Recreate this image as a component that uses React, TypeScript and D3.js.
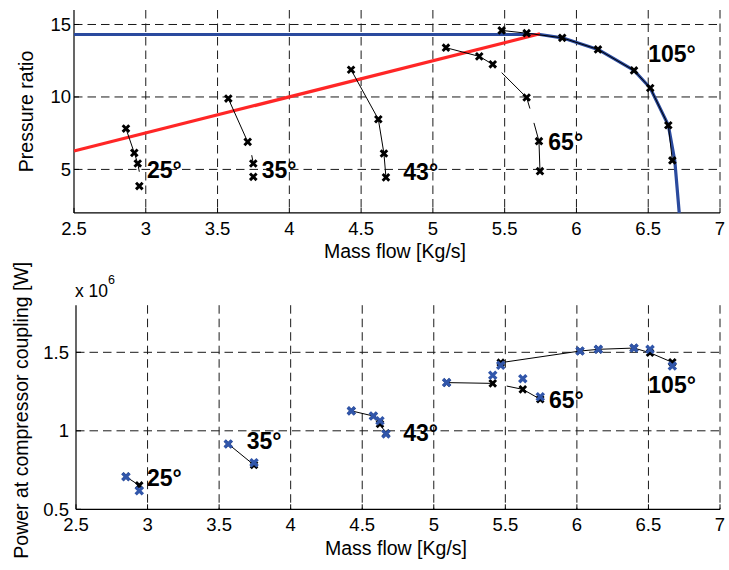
import React from "react";
import * as d3 from "d3";

// ---- data ----
const xTicks = [2.5, 3, 3.5, 4, 4.5, 5, 5.5, 6, 6.5, 7];
const prTicks = [5, 10, 15];
const pwTicks = [0.5, 1, 1.5];
const angleLabels = ["25°", "35°", "43°", "65°", "105°"];

// top plot: pressure ratio vs mass flow
const blueLimit: [number, number][] = [
  [2.5, 14.31], [5.746, 14.31], [5.901, 14.08], [6.15, 13.28], [6.401, 11.83],
  [6.514, 10.62], [6.64, 8.05], [6.685, 5.6], [6.716, 2.0],
];
const redLine: [number, number][] = [[2.5, 6.27], [5.746, 14.36]];

const pr25: [number, number][] = [[2.862, 7.82], [2.92, 6.14], [2.944, 5.41], [2.955, 3.85]];
const pr35: [number, number][] = [[3.575, 9.89], [3.71, 6.9], [3.749, 5.41], [3.749, 4.49]];
const pr43: [number, number][] = [[4.43, 11.88], [4.62, 8.46], [4.659, 6.1], [4.673, 4.45]];
const pr65: [number, number][] = [[5.091, 13.4], [5.323, 12.8], [5.417, 12.25], [5.653, 9.96], [5.739, 6.95], [5.746, 4.88]];
const pr105: [number, number][] = [[5.479, 14.59], [5.653, 14.4], [5.901, 14.08], [6.15, 13.28], [6.401, 11.83], [6.514, 10.62], [6.64, 8.05], [6.668, 5.62]];

const prSegments: [number, number][][] = [
  [[2.862, 7.82], [2.92, 6.14], [2.944, 5.41], [2.955, 4.84]],
  [[3.575, 9.89], [3.71, 6.9]],
  [[3.738, 5.98], [3.749, 5.41]],
  [[4.43, 11.88], [4.62, 8.46], [4.659, 6.1], [4.673, 4.45]],
  [[5.091, 13.4], [5.323, 12.8], [5.417, 12.25]],
  [[5.479, 11.68], [5.653, 9.96], [5.676, 9.2]],
  [[5.704, 8.21], [5.739, 6.95], [5.746, 4.88]],
  pr105,
];
const prLabelPos: [number, number][] = [[3.008, 4.38], [3.807, 4.38], [4.794, 4.26], [5.804, 6.33], [6.5, 12.385]];

// bottom plot: power (x 10^6 W) vs mass flow
const pwBlack: [number, number][][] = [
  [[2.849, 0.708], [2.942, 0.652]],
  [[3.564, 0.916], [3.744, 0.782]],
  [[4.424, 1.127], [4.578, 1.094], [4.624, 1.043], [4.666, 0.984]],
  [[5.09, 1.307], [5.412, 1.302], [5.622, 1.264], [5.744, 1.201]],
  [[5.468, 1.434], [6.022, 1.508], [6.15, 1.519], [6.399, 1.527], [6.511, 1.497], [6.667, 1.436]],
];
const pwSegments: [number, number][][] = [
  [[2.849, 0.708], [2.942, 0.652]],
  [[3.564, 0.916], [3.744, 0.782]],
  [[4.424, 1.127], [4.578, 1.094], [4.624, 1.043], [4.666, 0.984]],
  [[5.09, 1.307], [5.412, 1.302]],
  [[5.51, 1.285], [5.622, 1.264], [5.744, 1.201]],
  [[5.468, 1.434], [6.022, 1.508], [6.15, 1.519], [6.399, 1.527], [6.511, 1.497], [6.667, 1.436]],
];
const pwBlue: [number, number][] = [
  [2.849, 0.708], [2.942, 0.618],
  [3.564, 0.916], [3.744, 0.797],
  [4.424, 1.127], [4.578, 1.094], [4.624, 1.064], [4.666, 0.98],
  [5.09, 1.307], [5.412, 1.354], [5.622, 1.332], [5.744, 1.217],
  [5.468, 1.417], [6.022, 1.508], [6.15, 1.519], [6.399, 1.527], [6.511, 1.519], [6.667, 1.413],
];
const pwLabelPos: [number, number][] = [[2.996, 0.648], [3.693, 0.887], [4.787, 0.938], [5.805, 1.145], [6.499, 1.241]];

// ---- style ----
const FONT = "'Liberation Sans', Arial, Helvetica, sans-serif";
const BLUE = "#2a4a9e";
const BLUE_MK = "#3156aa";
const RED = "#ff2626";
const GRID = "#1a1a1a";
const DASH = "8.5,5";

const W = 729, H = 570;
const top = { l: 74, r: 720, t: 10, b: 212.9 };
const bot = { l: 76, r: 720, t: 305.2, b: 509.3 };

const xTop = d3.scaleLinear().domain([2.5, 7]).range([top.l, top.r]);
const yTop = d3.scaleLinear().domain([2, 16]).range([top.b, top.t]);
const xBot = d3.scaleLinear().domain([2.5, 7]).range([bot.l, bot.r]);
const yBot = d3.scaleLinear().domain([0.5, 1.8]).range([bot.b, bot.t]);

function Cross({ x, y, color, s = 3.3, w = 2.9 }: { x: number; y: number; color: string; s?: number; w?: number }) {
  return (
    <path
      d={`M${x - s},${y - s}L${x + s},${y + s}M${x - s},${y + s}L${x + s},${y - s}`}
      stroke={color}
      strokeWidth={w}
      strokeLinecap="butt"
      fill="none"
    />
  );
}

function Frame({
  box, xs, ys, yTicks, yFmt, yLabelEnd,
}: {
  box: { l: number; r: number; t: number; b: number };
  xs: d3.ScaleLinear<number, number>;
  ys: d3.ScaleLinear<number, number>;
  yTicks: number[];
  yFmt: (v: number) => string;
  yLabelEnd: number;
}) {
  return (
    <g>
      {xTicks.filter((v) => v > 2.5).map((v) => (
        <line key={"gx" + v} x1={xs(v)} x2={xs(v)} y1={box.t} y2={box.b} stroke={GRID} strokeWidth={1} strokeDasharray={DASH} />
      ))}
      {yTicks.filter((v) => ys(v) < box.b - 1).map((v) => (
        <line key={"gy" + v} x1={box.l} x2={box.r} y1={ys(v)} y2={ys(v)} stroke={GRID} strokeWidth={1} strokeDasharray={DASH} />
      ))}
      <line x1={box.l} x2={box.l} y1={box.t} y2={box.b} stroke="#000" strokeWidth={1.2} />
      <line x1={box.l} x2={box.r} y1={box.b} y2={box.b} stroke="#000" strokeWidth={1.2} />
      {xTicks.map((v) => (
        <g key={"tx" + v}>
          <line x1={xs(v)} x2={xs(v)} y1={box.b} y2={box.b - 5} stroke="#000" strokeWidth={1} />
          <text x={xs(v)} y={box.b + 22} textAnchor="middle" fontSize={18.5} fontFamily={FONT} fill="#000">
            {String(v)}
          </text>
        </g>
      ))}
      {yTicks.map((v) => (
        <g key={"ty" + v}>
          <line x1={box.l} x2={box.l + 5} y1={ys(v)} y2={ys(v)} stroke="#000" strokeWidth={1} />
          <text x={yLabelEnd} y={ys(v)} dy="0.35em" textAnchor="end" fontSize={18.5} fontFamily={FONT} fill="#000">
            {yFmt(v)}
          </text>
        </g>
      ))}
    </g>
  );
}

export default function App() {
  const lineTop = d3.line<[number, number]>().x((d) => xTop(d[0])).y((d) => yTop(d[1]));
  const lineBot = d3.line<[number, number]>().x((d) => xBot(d[0])).y((d) => yBot(d[1]));
  const prMarkers = [pr25, pr35, pr43, pr65, pr105].flat();
  const pwBlackMarkers = pwBlack.flat();

  return (
    <div style={{ position: "absolute", left: 0, top: 0 }}>
      <svg width={W} height={H} viewBox={`0 0 ${W} ${H}`} style={{ display: "block", background: "#fff" }}>
        {/* ---------- top plot ---------- */}
        <Frame box={top} xs={xTop} ys={yTop} yTicks={prTicks} yFmt={(v) => String(v)} yLabelEnd={71} />
        <path d={lineTop(blueLimit) || ""} stroke={BLUE} strokeWidth={3.2} fill="none" strokeLinejoin="round" />
        <path d={lineTop(redLine) || ""} stroke={RED} strokeWidth={3.2} fill="none" />
        {prSegments.map((seg, i) => (
          <path key={"ps" + i} d={lineTop(seg) || ""} stroke="#000" strokeWidth={1} fill="none" />
        ))}
        {prMarkers.map((p, i) => (
          <Cross key={"pm" + i} x={xTop(p[0])} y={yTop(p[1])} color="#000" />
        ))}
        {angleLabels.map((t, i) => (
          <text key={"pl" + i} x={xTop(prLabelPos[i][0])} y={yTop(prLabelPos[i][1])} fontSize={23} fontWeight="bold" fontFamily={FONT} fill="#000">
            {t}
          </text>
        ))}
        <text x={395} y={258} textAnchor="middle" fontSize={19.5} fontFamily={FONT} fill="#000">
          Mass flow [Kg/s]
        </text>
        <text transform={`translate(33,${(top.t + top.b) / 2}) rotate(-90)`} textAnchor="middle" fontSize={19.5} fontFamily={FONT} fill="#000">
          Pressure ratio
        </text>

        {/* ---------- bottom plot ---------- */}
        <Frame box={bot} xs={xBot} ys={yBot} yTicks={pwTicks} yFmt={(v) => String(v)} yLabelEnd={69} />
        {pwSegments.map((seg, i) => (
          <path key={"ws" + i} d={lineBot(seg) || ""} stroke="#000" strokeWidth={1} fill="none" />
        ))}
        {pwBlackMarkers.map((p, i) => (
          <Cross key={"wk" + i} x={xBot(p[0])} y={yBot(p[1])} color="#000" />
        ))}
        {pwBlue.map((p, i) => (
          <Cross key={"wb" + i} x={xBot(p[0])} y={yBot(p[1])} color={BLUE_MK} s={3.6} w={3.3} />
        ))}
        {angleLabels.map((t, i) => (
          <text key={"wl" + i} x={xBot(pwLabelPos[i][0])} y={yBot(pwLabelPos[i][1])} fontSize={23} fontWeight="bold" fontFamily={FONT} fill="#000">
            {t}
          </text>
        ))}
        <text x={75} y={296.7} fontSize={17.5} fontFamily={FONT} fill="#000">
          x 10
          <tspan dy={-13} fontSize={12.5}>6</tspan>
        </text>
        <text x={396} y={555} textAnchor="middle" fontSize={19.5} fontFamily={FONT} fill="#000">
          Mass flow [Kg/s]
        </text>
        <text transform={`translate(28,${(bot.t + bot.b) / 2 + 3}) rotate(-90)`} textAnchor="middle" fontSize={19.5} fontFamily={FONT} fill="#000">
          Power at compressor coupling [W]
        </text>
      </svg>
    </div>
  );
}
